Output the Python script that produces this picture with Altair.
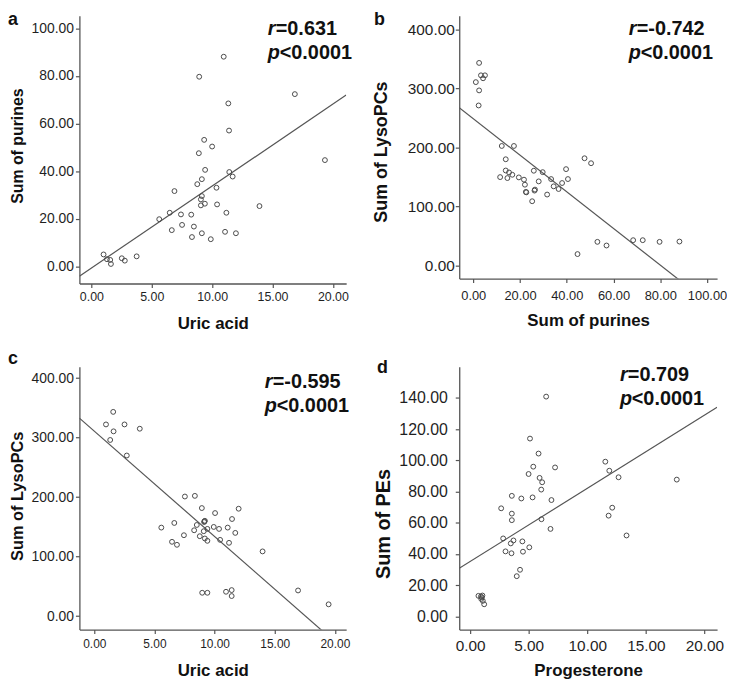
import altair as alt
import pandas as pd

FONT = "Liberation Sans"

# ---------------- Panel a: Uric acid vs Sum of purines ----------------
a_uric = [1.01, 1.29, 1.56, 1.62, 2.52, 2.77, 3.75, 5.62, 6.49, 6.66, 6.88, 7.42, 7.51,
          8.27, 8.33, 8.49, 8.77, 8.90, 8.93, 9.07, 9.15, 9.07, 9.15, 9.15, 9.34, 9.40,
          9.42, 9.89, 10.00, 10.36, 10.41, 10.96, 11.07, 11.18, 11.34, 11.40, 11.42,
          11.70, 11.97, 13.92, 16.85, 19.34]
a_purines = [5.1, 3.1, 2.8, 1.1, 3.5, 2.5, 4.3, 19.9, 22.6, 15.3, 31.7, 21.9, 17.5,
             21.8, 12.4, 16.8, 34.6, 47.6, 79.7, 28.2, 29.6, 25.7, 36.7, 14.0, 53.2, 26.4,
             40.6, 11.5, 50.4, 33.1, 26.1, 88.1, 14.6, 22.6, 68.5, 57.1, 39.7,
             37.8, 14.0, 25.4, 72.4, 44.7]

# ---------------- Panel b: Sum of purines vs Sum of LysoPCs ----------------
b_purines = [1.1, 2.5, 2.5, 2.3, 3.3, 5.0, 4.2,
             12.2, 17.4, 13.9, 13.9, 15.3, 16.7, 11.5, 14.6, 19.5, 21.7, 22.1, 25.9, 28.0,
             29.7, 22.7, 22.5, 26.4, 26.2, 25.2, 31.6, 33.3, 34.4, 36.5, 38.0, 39.7, 40.5,
             47.6, 50.4,
             44.6, 53.1, 57.0, 68.4, 72.5, 79.7, 88.2]
b_lysopcs = [310.5, 343.0, 296.5, 271.0, 322.0, 322.0, 317.0,
             202.5, 202.5, 180.0, 161.0, 157.7, 153.8, 149.8, 148.2, 149.3, 145.5, 137.0,
             160.6, 142.6, 158.2, 124.0, 124.8, 128.7, 127.0, 109.0, 120.3, 146.5, 134.2,
             129.7, 139.8, 163.3, 146.5, 181.7, 173.3,
             19.6, 40.3, 34.1, 43.1, 43.1, 40.3, 40.8]

# ---------------- Panel c: Uric acid vs Sum of LysoPCs ----------------
c_uric = [0.97, 1.32, 1.57, 1.60, 2.51, 2.70, 3.78,
          5.57, 6.46, 6.65, 6.87, 7.45, 7.53, 8.36, 8.30, 8.52, 8.77, 8.94, 9.16, 9.13,
          9.19, 9.10, 9.19, 9.40, 9.40, 8.97, 9.40, 9.93, 10.04, 10.37, 10.46, 11.09,
          11.20, 11.45, 11.72, 12.00, 10.95, 11.42, 11.42, 13.99, 16.94, 19.48]
c_lysopcs = [322.2, 296.1, 343.3, 310.6, 322.2, 270.0, 315.0,
             148.9, 125.0, 156.7, 120.0, 136.1, 201.1, 202.2, 144.4, 153.3, 134.4, 181.7,
             159.4, 158.3, 160.3, 142.8, 130.6, 126.7, 146.7, 39.4, 39.4, 150.0, 173.3,
             146.7, 128.3, 148.9, 123.3, 163.3, 140.0, 180.6, 41.1, 43.9, 33.9, 108.9,
             43.3, 20.0]

# ---------------- Panel d: Progesterone vs Sum of PEs ----------------
d_prog = [6.49, 5.11, 5.84, 5.39, 7.25, 4.99, 5.93, 6.15, 6.07, 5.33, 6.94, 4.37, 3.56,
          2.65, 3.56, 3.56, 6.09, 6.86, 2.82, 3.70, 3.47, 4.46, 3.02, 3.53, 4.51, 5.05,
          4.26, 3.98, 11.54, 11.88, 12.67, 11.82, 12.13, 13.35, 17.64,
          0.71, 0.92, 1.05, 0.95, 1.08, 1.00, 1.20]
d_pes = [140.9, 114.0, 104.4, 96.0, 95.5, 91.3, 88.8, 86.0, 81.3, 76.3, 74.6, 75.6, 77.3,
         69.3, 65.9, 61.7, 62.3, 56.1, 50.0, 48.7, 46.8, 48.1, 41.7, 40.5, 41.5, 44.3,
         29.9, 25.8, 99.2, 93.4, 89.2, 64.6, 69.7, 51.9, 87.7,
         13.2, 12.8, 13.4, 11.2, 10.0, 12.2, 7.8]

# fitted regression lines (intercept, slope)
fits = {"a": (-0.6, 3.44), "b": (248.7, -3.097), "c": (310.9, -17.70), "d": (35.2, 4.69)}

stats = {"a": ("0.631", "0.0001"), "b": ("-0.742", "0.0001"),
         "c": ("-0.595", "0.0001"), "d": ("0.709", "0.0001")}

ticks_uric = [0, 5, 10, 15, 20]
ticks_purines = [0, 20, 40, 60, 80, 100]
ticks_lyso = [0, 100, 200, 300, 400]
ticks_pes = [0, 20, 40, 60, 80, 100, 120, 140]

GRAY = "#555555"


def panel(key, xs, ys, xdom, ydom, xticks, yticks, xtitle, ytitle, w, h, st):
    df = pd.DataFrame({"x": xs, "y": ys})
    xsc = alt.Scale(domain=xdom, nice=False, zero=False)
    ysc = alt.Scale(domain=ydom, nice=False, zero=False)
    xaxis = alt.Axis(values=xticks, format=".2f", title=xtitle, grid=False,
                     labelFontSize=st["xl"], titleFontSize=st["xt"], labelPadding=st["xlp"],
                     titleBaseline="alphabetic", titleY=st["xty"], labelFlush=False)
    yaxis = alt.Axis(values=yticks, format=".2f", title=ytitle, grid=False,
                     labelFontSize=st["yl"], titleFontSize=st["yt"], labelPadding=st["ylp"],
                     titleAngle=270, titleAlign="center", titleBaseline="middle",
                     titleX=st["ytx"], titleY=st["yty"], labelFlush=False)
    pts = alt.Chart(df).mark_point(shape="circle", filled=False, size=24, color="#4a4a4a",
                                   strokeWidth=1, opacity=1).encode(
        x=alt.X("x:Q", scale=xsc, axis=xaxis),
        y=alt.Y("y:Q", scale=ysc, axis=yaxis),
    )
    b0, b1 = fits[key]
    ldf = pd.DataFrame({"x": xdom, "y": [b0 + b1 * v for v in xdom]})
    line = alt.Chart(ldf).mark_line(clip=True, color=GRAY, strokeWidth=1.2).encode(
        x=alt.X("x:Q", scale=xsc, axis=xaxis),
        y=alt.Y("y:Q", scale=ysc, axis=yaxis),
    )
    rv, pv = stats[key]
    x0, yb = st["txt"]
    tdf = pd.DataFrame({"r": ["r"], "rv": ["=" + rv], "p": ["p"], "pv": ["<" + pv],
                        "letter": [key]})
    base = alt.Chart(tdf)
    common = dict(fontSize=20, fontWeight="bold", font=FONT, color="#111",
                  baseline="alphabetic")
    t_r = base.mark_text(align="left", fontStyle="italic", **common).encode(
        x=alt.value(x0), y=alt.value(yb), text="r:N")
    t_rv = base.mark_text(align="left", **common).encode(
        x=alt.value(x0 + 8), y=alt.value(yb), text="rv:N")
    t_p = base.mark_text(align="left", fontStyle="italic", **common).encode(
        x=alt.value(x0), y=alt.value(yb + 25), text="p:N")
    t_pv = base.mark_text(align="left", **common).encode(
        x=alt.value(x0 + 12), y=alt.value(yb + 25), text="pv:N")
    lx, ly = st["let"]
    t_let = base.mark_text(align="left", fontSize=18, fontWeight="bold", font=FONT,
                           color="#111", baseline="alphabetic").encode(
        x=alt.value(lx), y=alt.value(ly), text="letter:N")
    return alt.layer(line, pts, t_r, t_rv, t_p, t_pv, t_let).properties(width=w, height=h)


pa = panel("a", a_uric, a_purines, [-0.99, 21.1], [-7.1, 105.3], ticks_uric, [0, 20, 40, 60, 80, 100],
           "Uric acid", "Sum of purines", 269, 270,
           dict(xl=12.5, xt=17, xlp=3, xty=45, yl=14, yt=16, ylp=2, ytx=-62, yty=131,
                txt=(190, 19), let=(-72, 9)))
pb = panel("b", b_purines, b_lysopcs, [-6.0, 104.3], [-21.8, 422.8], ticks_purines, ticks_lyso,
           "Sum of purines", "Sum of LysoPCs", 260, 265,
           dict(xl=13, xt=17, xlp=7, xty=47, yl=15.5, yt=18, ylp=1, ytx=-78, yty=137,
                txt=(171, 19), let=(-86, 9)))
pc = panel("c", c_uric, c_lysopcs, [-1.24, 20.94], [-22.5, 419], ticks_uric, ticks_lyso,
           "Uric acid", "Sum of LysoPCs", 269, 265,
           dict(xl=12, xt=17, xlp=5, xty=46, yl=14, yt=16.5, ylp=2, ytx=-62, yty=130,
                txt=(187, 21), let=(-72, -3)))
pd_ = panel("d", d_prog, d_pes, [-0.93, 21.08], [-8.45, 160], ticks_uric, ticks_pes,
            "Progesterone", "Sum of PEs", 260, 265,
            dict(xl=15.5, xt=17, xlp=5, xty=46, yl=16, yt=20, ylp=8, ytx=-76, yty=158,
                 txt=(162, 14), let=(-83, 6)))

chart = alt.concat(pa, pb, pc, pd_, columns=2,
                   spacing=alt.RowColnumber(row=84, column=114),
                   bounds="flush", align="all").properties(
    padding=0, background="white"
).configure_view(stroke=None).configure_axis(
    domainColor=GRAY, domainWidth=1.3, tickColor=GRAY, tickWidth=1.2, tickSize=4,
    labelColor="#1f1f1f", labelFont=FONT, titleFont=FONT, titleColor="#111",
    titleFontWeight="bold", labelFontWeight="normal", grid=False
)

chart.save("out.html", embed_options={"renderer": "svg", "actions": False})
